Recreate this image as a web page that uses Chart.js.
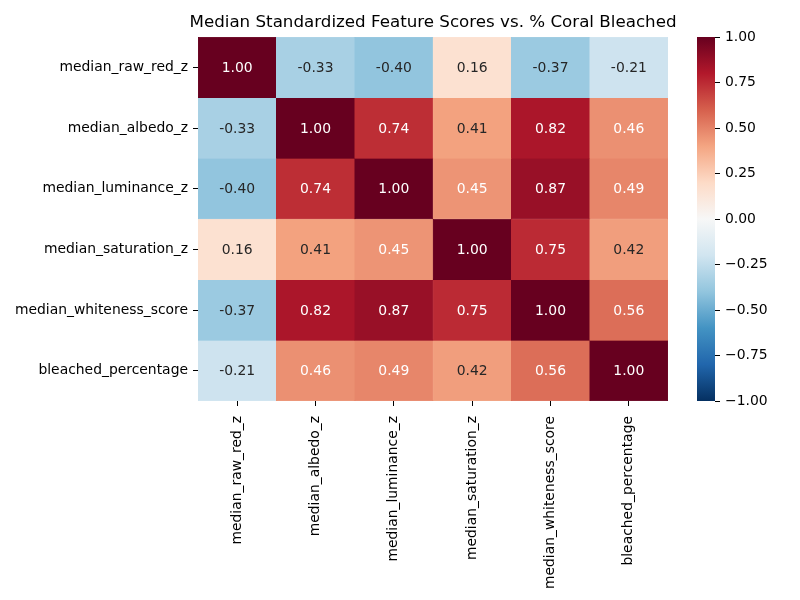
<!DOCTYPE html>
<html>
<head>
<meta charset="utf-8">
<script src="https://cdn.jsdelivr.net/npm/chart.js@4.4.0/dist/chart.umd.min.js"></script>
<style>
  html, body { margin: 0; padding: 0; background: #ffffff; overflow: hidden; }
  #wrap { position: relative; width: 800px; height: 600px; background: #ffffff; overflow: hidden; }
  canvas { position: absolute; left: 0; top: 0; }
</style>
</head>
<body>
<div id="wrap">
  <canvas id="heat" width="866" height="600"></canvas>
  <canvas id="cbar" width="800" height="600"></canvas>
</div>
<script>
// ---- data ----
const features = ['median_raw_red_z', 'median_albedo_z', 'median_luminance_z', 'median_saturation_z', 'median_whiteness_score', 'bleached_percentage'];
const rowRawRed     = [ 1.00, -0.33, -0.40, 0.16, -0.37, -0.21];
const rowAlbedo     = [-0.33,  1.00,  0.74, 0.41,  0.82,  0.46];
const rowLuminance  = [-0.40,  0.74,  1.00, 0.45,  0.87,  0.49];
const rowSaturation = [ 0.16,  0.41,  0.45, 1.00,  0.75,  0.42];
const rowWhiteness  = [-0.37,  0.82,  0.87, 0.75,  1.00,  0.56];
const rowBleached   = [-0.21,  0.46,  0.49, 0.42,  0.56,  1.00];
const colorbarTicks = [-1.00, -0.75, -0.50, -0.25, 0.00, 0.25, 0.50, 0.75, 1.00];
const vmin = -1, vmax = 1;

const matrix = [rowRawRed, rowAlbedo, rowLuminance, rowSaturation, rowWhiteness, rowBleached];

// RdBu_r colormap anchors (from -1 to 1)
const anchors = ['#053061','#2166ac','#4393c3','#92c5de','#d1e5f0','#f7f7f7','#fddbc7','#f4a582','#d6604d','#b2182b','#67001f'];
function hexToRgb(h) { return [parseInt(h.slice(1,3),16), parseInt(h.slice(3,5),16), parseInt(h.slice(5,7),16)]; }
const anchorRgb = anchors.map(hexToRgb);
function cmap(v) {
  let t = (v - vmin) / (vmax - vmin);
  t = Math.max(0, Math.min(1, t));
  const pos = t * (anchorRgb.length - 1);
  const i = Math.min(Math.floor(pos), anchorRgb.length - 2);
  const f = pos - i;
  const a = anchorRgb[i], b = anchorRgb[i + 1];
  return [0,1,2].map(k => a[k] + (b[k] - a[k]) * f);
}
function rgbStr(c) { return 'rgb(' + c.map(x => Math.round(x)).join(',') + ')'; }
function luminance(c) {
  const l = c.map(x => { x = x / 255; return x <= 0.03928 ? x / 12.92 : Math.pow((x + 0.055) / 1.055, 2.4); });
  return 0.2126 * l[0] + 0.7152 * l[1] + 0.0722 * l[2];
}

const FONT = 'DejaVu Sans';
const TICK_SIZE = 13.9;

// ---- heatmap ----
const datasets = matrix.map((row, r) => ({
  label: features[r],
  data: row.map(() => [r, r + 1]),
  backgroundColor: row.map(v => rgbStr(cmap(v))),
  borderColor: row.map(v => rgbStr(cmap(v))),
  borderWidth: 0.5,
  borderSkipped: false,
  barPercentage: 1.0,
  categoryPercentage: 1.0,
  grouped: false
}));

const annotatePlugin = {
  id: 'annotate',
  afterDatasetsDraw(chart) {
    const ctx = chart.ctx;
    const xs = chart.scales.x, ys = chart.scales.y;
    ctx.save();
    ctx.font = TICK_SIZE + 'px "' + FONT + '"';
    ctx.textAlign = 'center';
    ctx.textBaseline = 'middle';
    matrix.forEach((row, r) => {
      row.forEach((v, c) => {
        const col = cmap(v);
        ctx.fillStyle = luminance(col) > 0.408 ? '#262626' : '#ffffff';
        ctx.fillText(v.toFixed(2), xs.getPixelForValue(c), ys.getPixelForValue(r + 0.5) + 1);
      });
    });
    ctx.restore();
  }
};

new Chart(document.getElementById('heat'), {
  type: 'bar',
  data: { labels: features, datasets: datasets },
  options: {
    responsive: false,
    animation: false,
    devicePixelRatio: 1,
    layout: { padding: { left: 0, right: 0, top: 0, bottom: 0 } },
    plugins: {
      legend: { display: false },
      tooltip: { enabled: false },
      title: {
        display: true,
        text: 'Median Standardized Feature Scores vs. % Coral Bleached',
        fullSize: true,
        color: '#000000',
        font: { family: FONT, size: 16.7, weight: 'normal' },
        padding: { top: 13, bottom: 4 }
      }
    },
    scales: {
      x: {
        type: 'category',
        offset: true,
        grid: { display: true, drawOnChartArea: false, drawTicks: true, tickLength: 5, color: '#000000', offset: false, tickWidth: 1 },
        border: { display: false },
        ticks: {
          color: '#000000', font: { family: FONT, size: TICK_SIZE },
          minRotation: 90, maxRotation: 90, autoSkip: false, padding: 10
        },
        afterFit(scale) { scale.height = 199; }
      },
      y: {
        type: 'linear',
        min: 0, max: 6, reverse: true,
        grid: { display: true, drawOnChartArea: false, drawTicks: true, tickLength: 5, color: '#000000', tickWidth: 1 },
        border: { display: false },
        afterBuildTicks(scale) { scale.ticks = features.map((_, i) => ({ value: i + 0.5 })); },
        ticks: {
          color: '#000000', font: { family: FONT, size: TICK_SIZE }, padding: 5, autoSkip: false,
          callback: (value, index) => features[index]
        },
        afterFit(scale) { scale.width = 198; }
      },
      spacer: {
        type: 'linear', position: 'right', display: true, min: 0, max: 1,
        grid: { display: false }, border: { display: false }, ticks: { display: false },
        afterFit(scale) { scale.width = 198; }
      }
    }
  },
  plugins: [annotatePlugin]
});

// ---- colorbar ----
new Chart(document.getElementById('cbar'), {
  type: 'bar',
  data: {
    labels: [''],
    datasets: [{
      data: [[vmin, vmax]],
      backgroundColor: (ctx) => {
        const ca = ctx.chart.chartArea;
        if (!ca) return anchors[5];
        const g = ctx.chart.ctx.createLinearGradient(0, ca.bottom, 0, ca.top);
        anchors.forEach((a, i) => g.addColorStop(i / (anchors.length - 1), a));
        return g;
      },
      borderWidth: 0,
      barPercentage: 1.0,
      categoryPercentage: 1.0
    }]
  },
  options: {
    responsive: false,
    animation: false,
    devicePixelRatio: 1,
    layout: { padding: { left: 697, right: 0, top: 37, bottom: 199 } },
    plugins: { legend: { display: false }, tooltip: { enabled: false }, title: { display: false } },
    scales: {
      x: { type: 'category', display: false },
      y: {
        type: 'linear', position: 'right', min: vmin, max: vmax,
        grid: { display: true, drawOnChartArea: false, drawTicks: true, tickLength: 5, color: '#000000', tickWidth: 1 },
        border: { display: false },
        afterBuildTicks(scale) { scale.ticks = colorbarTicks.map(v => ({ value: v })); },
        ticks: {
          color: '#000000', font: { family: FONT, size: TICK_SIZE }, padding: 5,
          callback: (value) => (value < 0 ? '\u2212' : '') + Math.abs(value).toFixed(2)
        },
        afterFit(scale) { scale.width = 85; }
      }
    }
  }
});
</script>
</body>
</html>
